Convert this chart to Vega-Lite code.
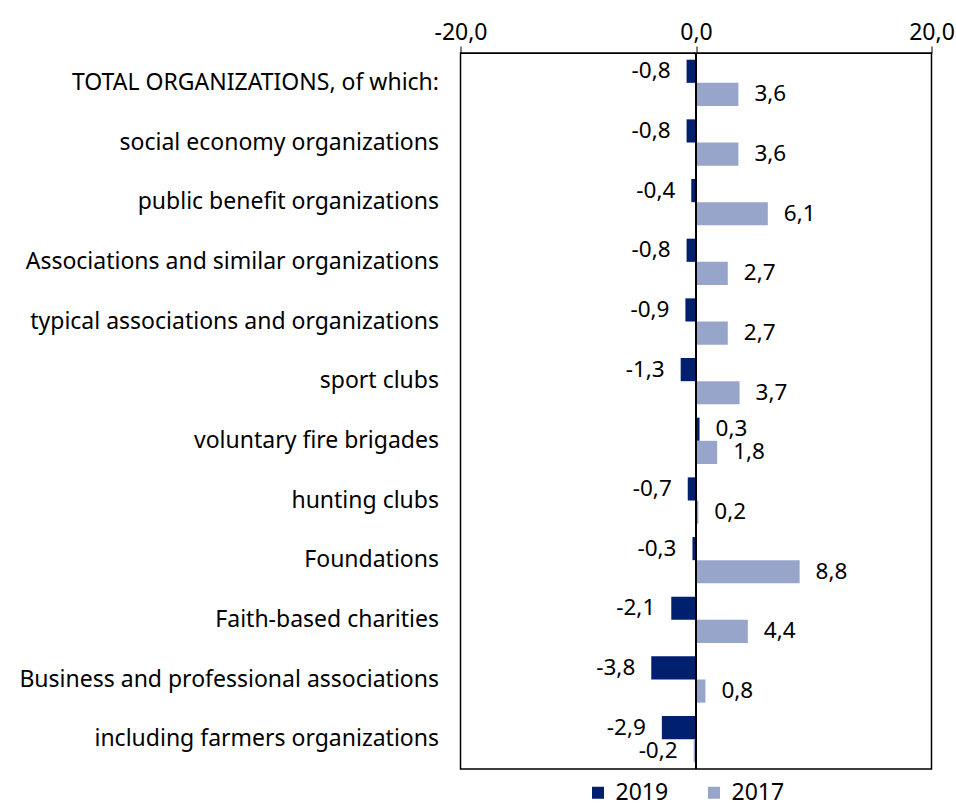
{
  "$schema": "https://vega.github.io/schema/vega-lite/v6.json",
  "width": 471,
  "height": 716,
  "autosize": {"type": "none"},
  "padding": {"left": 460.5, "top": 53, "right": 24.5, "bottom": 38},
  "config": {
    "locale": {"number": {"decimal": ",", "thousands": " ", "grouping": [3], "currency": ["", ""], "minus": "-"}},
    "font": "Noto Sans",
    "view": {"stroke": "#000", "strokeWidth": 1.5},
    "text": {"font": "Noto Sans", "fontSize": 22.5, "fill": "#000"}
  },
  "data": {
    "values": [
      {"cat": "TOTAL ORGANIZATIONS, of which:", "year": "2019", "value": -0.8},
      {"cat": "TOTAL ORGANIZATIONS, of which:", "year": "2017", "value": 3.6},
      {"cat": "social economy organizations", "year": "2019", "value": -0.8},
      {"cat": "social economy organizations", "year": "2017", "value": 3.6},
      {"cat": "public benefit organizations", "year": "2019", "value": -0.4},
      {"cat": "public benefit organizations", "year": "2017", "value": 6.1},
      {"cat": "Associations and similar organizations", "year": "2019", "value": -0.8},
      {"cat": "Associations and similar organizations", "year": "2017", "value": 2.7},
      {"cat": "typical associations and organizations", "year": "2019", "value": -0.9},
      {"cat": "typical associations and organizations", "year": "2017", "value": 2.7},
      {"cat": "sport clubs", "year": "2019", "value": -1.3},
      {"cat": "sport clubs", "year": "2017", "value": 3.7},
      {"cat": "voluntary fire brigades", "year": "2019", "value": 0.3},
      {"cat": "voluntary fire brigades", "year": "2017", "value": 1.8},
      {"cat": "hunting clubs", "year": "2019", "value": -0.7},
      {"cat": "hunting clubs", "year": "2017", "value": 0.2},
      {"cat": "Foundations", "year": "2019", "value": -0.3},
      {"cat": "Foundations", "year": "2017", "value": 8.8},
      {"cat": "Faith-based charities", "year": "2019", "value": -2.1},
      {"cat": "Faith-based charities", "year": "2017", "value": 4.4},
      {"cat": "Business and professional associations", "year": "2019", "value": -3.8},
      {"cat": "Business and professional associations", "year": "2017", "value": 0.8},
      {"cat": "including farmers organizations", "year": "2019", "value": -2.9},
      {"cat": "including farmers organizations", "year": "2017", "value": -0.2}
    ]
  },
  "layer": [
    {
      "mark": {"type": "bar"},
      "encoding": {
        "y": {"field": "cat", "type": "nominal", "sort": null,
          "scale": {"paddingInner": 0.224, "paddingOuter": 0.112},
          "axis": {"title": null, "ticks": false, "domain": false, "labelPadding": 22, "labelFontSize": 23, "labelColor": "#000", "labelLimit": 500, "labelFont": "Noto Sans"}},
        "yOffset": {"field": "year", "type": "nominal", "sort": ["2019", "2017"]},
        "x": {"field": "value", "type": "quantitative", "scale": {"domain": [-20, 20]},
          "axis": {"orient": "top", "values": [-20, 0, 20], "format": ".1f", "title": null, "grid": false, "tickSize": 7, "tickColor": "#000", "domainColor": "#000", "labelFontSize": 23, "labelColor": "#000", "labelPadding": 2, "labelFont": "Noto Sans", "labelFlush": false}},
        "color": {"field": "year", "type": "nominal",
          "scale": {"domain": ["2019", "2017"], "range": ["#001F6E", "#98A5CA"]},
          "legend": {"orient": "none", "legendX": 126, "legendY": 728, "direction": "horizontal", "title": null, "symbolType": "square", "symbolSize": 144, "symbolStrokeWidth": 0, "labelFontSize": 23, "labelColor": "#000", "labelFont": "Noto Sans", "columnPadding": 34, "labelOffset": 6}}
      }
    },
    {
      "transform": [{"filter": "datum.value < 0"}],
      "mark": {"type": "text", "align": "right", "baseline": "middle", "dx": -16},
      "encoding": {
        "y": {"field": "cat", "type": "nominal", "sort": null},
        "yOffset": {"field": "year", "type": "nominal", "sort": ["2019", "2017"]},
        "x": {"field": "value", "type": "quantitative"},
        "text": {"field": "value", "type": "quantitative", "format": ".1f"}
      }
    },
    {
      "transform": [{"filter": "datum.value >= 0"}],
      "mark": {"type": "text", "align": "left", "baseline": "middle", "dx": 16},
      "encoding": {
        "y": {"field": "cat", "type": "nominal", "sort": null},
        "yOffset": {"field": "year", "type": "nominal", "sort": ["2019", "2017"]},
        "x": {"field": "value", "type": "quantitative"},
        "text": {"field": "value", "type": "quantitative", "format": ".1f"}
      }
    },
    {
      "mark": {"type": "rule", "color": "#000", "strokeWidth": 1.5},
      "encoding": {"x": {"datum": 0}}
    }
  ]
}
